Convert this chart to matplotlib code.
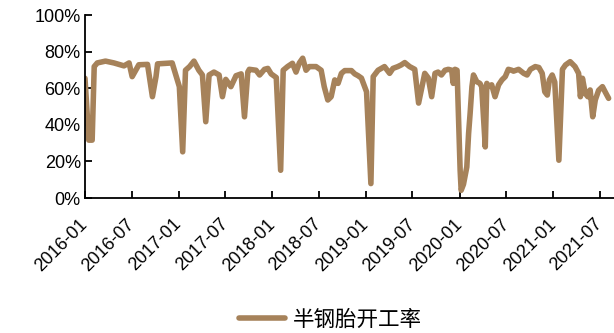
import matplotlib
matplotlib.use('Agg')
import matplotlib.pyplot as plt
import matplotlib.dates as mdates
from matplotlib.ticker import FuncFormatter
import pandas as pd

plt.rcParams['font.family'] = ['Liberation Sans', 'Noto Sans CJK SC']

# weekly semi-steel tyre operating rate (%)
dates = [
    '2016-01-01', '2016-01-16', '2016-01-29', '2016-02-06', '2016-02-18', '2016-03-21',
    '2016-04-23', '2016-06-01', '2016-06-21', '2016-07-03', '2016-07-29', '2016-09-01',
    '2016-09-20', '2016-10-04', '2016-10-10', '2016-12-06', '2017-01-03', '2017-01-16',
    '2017-01-27', '2017-02-12', '2017-03-01', '2017-03-20', '2017-04-03', '2017-04-16',
    '2017-04-29', '2017-05-18', '2017-06-07', '2017-06-20', '2017-07-03', '2017-07-23',
    '2017-08-12', '2017-09-01', '2017-09-14', '2017-09-27', '2017-10-03', '2017-10-29',
    '2017-11-12', '2017-12-01', '2017-12-14', '2017-12-27', '2018-01-16', '2018-02-02',
    '2018-02-12', '2018-03-01', '2018-03-20', '2018-04-03', '2018-04-16', '2018-04-29',
    '2018-05-12', '2018-05-25', '2018-06-20', '2018-07-10', '2018-07-22', '2018-08-05',
    '2018-08-18', '2018-09-01', '2018-09-14', '2018-09-27', '2018-10-10', '2018-11-05',
    '2018-11-18', '2018-12-01', '2018-12-14', '2019-01-03', '2019-01-20', '2019-01-29',
    '2019-02-17', '2019-03-14', '2019-04-03', '2019-04-16', '2019-05-05', '2019-05-18',
    '2019-06-01', '2019-06-20', '2019-07-10', '2019-07-25', '2019-08-18', '2019-09-01',
    '2019-09-14', '2019-09-27', '2019-10-09', '2019-10-22', '2019-11-05', '2019-11-18',
    '2019-12-01', '2019-12-07', '2019-12-14', '2019-12-22', '2020-01-03', '2020-01-07',
    '2020-01-16', '2020-01-29', '2020-02-05', '2020-02-11', '2020-02-18', '2020-02-24',
    '2020-03-08', '2020-03-20', '2020-03-27', '2020-04-10', '2020-04-16', '2020-04-22',
    '2020-05-05', '2020-05-18', '2020-06-01', '2020-06-14', '2020-06-27', '2020-07-09',
    '2020-07-22', '2020-07-29', '2020-08-18', '2020-09-07', '2020-09-20', '2020-10-03',
    '2020-10-22', '2020-11-05', '2020-11-18', '2020-11-28', '2020-12-08', '2020-12-16',
    '2020-12-27', '2021-01-06', '2021-01-22', '2021-02-05', '2021-02-17', '2021-03-07',
    '2021-03-26', '2021-04-09', '2021-04-16', '2021-04-24', '2021-05-05', '2021-05-15',
    '2021-05-24', '2021-06-03', '2021-06-13', '2021-06-26', '2021-07-11', '2021-07-22',
    '2021-08-04',
]
rate = [
    65.6, 31.7, 31.7, 72.0, 74.0, 75.0,
    74.0, 72.4, 74.0, 66.5, 73.0, 73.2,
    55.5, 66.5, 73.5, 74.0, 61.0, 25.3,
    70.0, 72.0, 75.0, 70.0, 67.4, 41.8,
    67.4, 69.0, 67.4, 55.5, 65.0, 61.0,
    67.0, 68.0, 44.5, 69.0, 70.5, 70.0,
    67.4, 70.5, 71.0, 68.0, 66.0, 15.2,
    70.0, 72.0, 73.8, 69.0, 74.0, 76.6,
    70.0, 72.0, 72.0, 70.0, 61.0, 53.7,
    55.5, 64.7, 62.8, 68.3, 69.8, 69.8,
    68.0, 67.0, 65.7, 58.2, 7.9, 66.5,
    70.0, 72.0, 68.3, 71.0, 72.0, 72.9,
    74.2, 72.0, 70.5, 52.0, 68.3, 65.7,
    55.5, 68.3, 69.0, 67.4, 70.0, 70.5,
    70.0, 62.8, 70.5, 70.0, 15.2, 4.2,
    7.5, 17.0, 35.4, 46.5, 61.0, 67.4,
    63.7, 62.8, 61.0, 28.0, 62.8, 61.0,
    62.0, 55.5, 62.0, 64.7, 66.5, 70.5,
    70.0, 69.5, 70.5, 68.3, 67.4, 70.5,
    72.0, 71.5, 68.3, 58.2, 56.4, 64.7,
    67.4, 63.5, 20.7, 70.5, 72.9, 74.7,
    72.0, 68.3, 55.5, 65.6, 57.3, 55.5,
    59.2, 44.5, 53.7, 59.0, 61.0, 58.0,
    54.6,
]
tick_dates = pd.date_range('2016-01-01', '2021-07-01', freq='6MS')
label = '半钢胎开工率'

x = pd.to_datetime(dates)
fig = plt.figure(figsize=(6.14, 3.33), dpi=100)
ax = fig.add_axes([0.1384, 0.4054, 0.8616, 0.5481])

ax.plot(x, [v / 100 for v in rate], color='#A6825A', lw=4.0,
        solid_joinstyle='round', solid_capstyle='round', label=label)

ax.set_ylim(0, 1)
ax.set_yticks([0, 0.2, 0.4, 0.6, 0.8, 1.0])
ax.yaxis.set_major_formatter(FuncFormatter(lambda v, p: f'{v * 100:.0f}%'))
ax.set_xlim(pd.Timestamp('2016-01-01'), pd.Timestamp('2021-08-25'))
ax.set_xticks(tick_dates)
ax.xaxis.set_major_formatter(mdates.DateFormatter('%Y-%m'))

for s in ['top', 'right']:
    ax.spines[s].set_visible(False)
for s in ['left', 'bottom']:
    ax.spines[s].set_linewidth(1.3)
    ax.spines[s].set_color('black')

ax.tick_params(axis='y', direction='in', length=5, width=1.3, labelsize=13, pad=3)
ax.tick_params(axis='x', direction='in', length=5, width=1.3, labelsize=13, pad=17)
plt.setp(ax.get_xticklabels(), rotation=45, ha='right', va='center',
         rotation_mode='anchor')

fig.legend(loc='center', bbox_to_anchor=(0.538, 0.04), frameon=False,
           handlelength=2.15, handletextpad=0.37,
           prop={'family': 'Noto Sans CJK SC', 'size': 15.5})

fig.savefig('out.png', dpi=100)
